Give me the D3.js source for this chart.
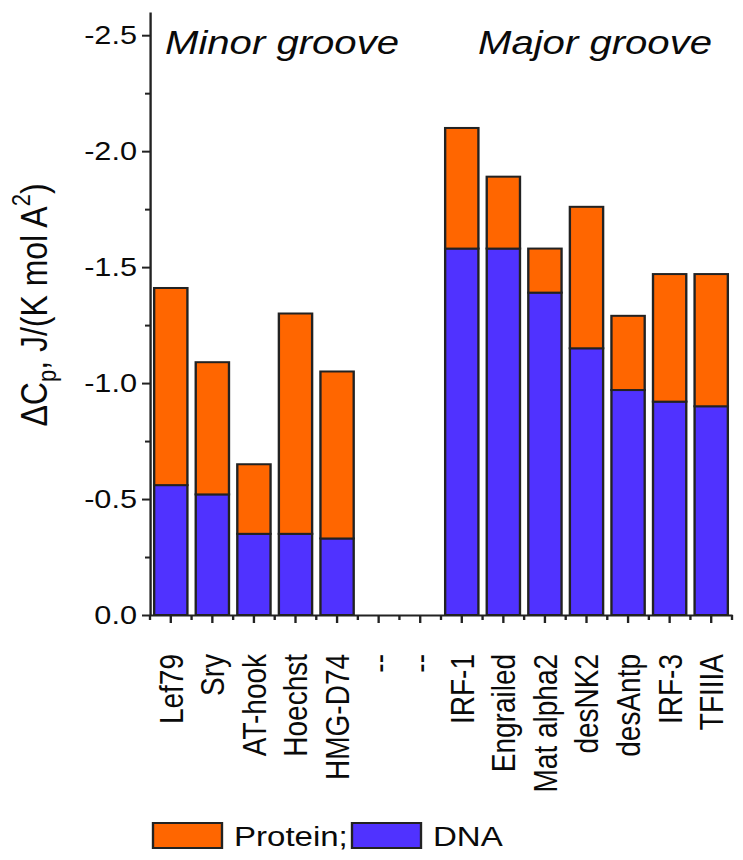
<!DOCTYPE html>
<html>
<head>
<meta charset="utf-8">
<script src="https://cdn.jsdelivr.net/npm/d3@7"></script>
<style>
  body { margin: 0; background: #fff; }
  svg { display: block; font-family: 'Liberation Sans', Arial, sans-serif; }
</style>
</head>
<body>
<svg id="chart" width="743" height="860"></svg>
<script>
// Heat capacity contributions (negative values)
const labels = ['Lef79', 'Sry', 'AT-hook', 'Hoechst', 'HMG-D74', '--', '--',
  'IRF-1', 'Engrailed', 'Mat alpha2', 'desNK2', 'desAntp', 'IRF-3', 'TFIIIA'];
const dnaValues = [-0.56, -0.52, -0.35, -0.35, -0.33, 0, 0,
  -1.58, -1.58, -1.39, -1.15, -0.97, -0.92, -0.90];
const proteinValues = [-0.85, -0.57, -0.30, -0.95, -0.72, 0, 0,
  -0.52, -0.31, -0.19, -0.61, -0.32, -0.55, -0.57];
const yTicks = [0, -0.5, -1.0, -1.5, -2.0, -2.5];
const yMinorTicks = [-0.25, -0.75, -1.25, -1.75, -2.25];
const groupTitles = ['Minor groove', 'Major groove'];
const legendNames = ['Protein;', 'DNA'];

const colors = { protein: '#ff6600', dna: '#5032ff', line: '#222', text: '#0a0a0a' };

// the original picture is stretched horizontally, so everything is drawn in a scaled group
const sx = 1.18;
const plotLeft = 150, plotRight = 732, plotTop = 12, plotBottom = 615;

const svg = d3.select('#chart');
const g = svg.append('g').attr('transform', 'scale(' + sx + ',1)');

const x = d3.scaleBand()
  .domain(d3.range(labels.length))
  .range([plotLeft / sx, plotRight / sx])
  .paddingInner(0.2)
  .paddingOuter(0.1);

const y = d3.scaleLinear()
  .domain([0, -2.6])
  .range([plotBottom, plotTop]);

// stacked bars: DNA on the bottom, protein on top
const rows = labels.map(function (d, i) {
  return { i: i, dna: dnaValues[i], protein: proteinValues[i] };
}).filter(function (d) { return d.dna !== 0 || d.protein !== 0; });

g.selectAll('rect.dna')
  .data(rows)
  .enter()
  .append('rect')
  .attr('class', 'dna')
  .attr('x', function (d) { return x(d.i); })
  .attr('width', x.bandwidth())
  .attr('y', function (d) { return y(d.dna); })
  .attr('height', function (d) { return y(0) - y(d.dna); })
  .style('fill', colors.dna)
  .style('stroke', colors.line)
  .style('stroke-width', 2);

g.selectAll('rect.protein')
  .data(rows)
  .enter()
  .append('rect')
  .attr('class', 'protein')
  .attr('x', function (d) { return x(d.i); })
  .attr('width', x.bandwidth())
  .attr('y', function (d) { return y(d.dna + d.protein); })
  .attr('height', function (d) { return y(d.dna) - y(d.dna + d.protein); })
  .style('fill', colors.protein)
  .style('stroke', colors.line)
  .style('stroke-width', 2);

// y axis with minor ticks
const yAxis = g.append('g')
  .attr('transform', 'translate(' + plotLeft / sx + ',0)')
  .call(d3.axisLeft(y)
    .tickValues(yTicks)
    .tickFormat(function (d) { return d.toFixed(1); })
    .tickSize(8 / sx)
    .tickSizeOuter(0)
    .tickPadding(5 / sx));

g.append('g')
  .attr('transform', 'translate(' + plotLeft / sx + ',0)')
  .call(d3.axisLeft(y).tickValues(yMinorTicks).tickFormat('').tickSize(5 / sx).tickSizeOuter(0))
  .select('.domain').remove();

// x axis: long ticks at the bars, short ticks between them
const xAxis = g.append('g')
  .attr('transform', 'translate(0,' + plotBottom + ')')
  .call(d3.axisBottom(x)
    .tickFormat(function (i) { return labels[i]; })
    .tickSize(8)
    .tickSizeOuter(0));

xAxis.selectAll('text')
  .attr('transform', 'rotate(-90)')
  .attr('x', -39)
  .attr('y', 0)
  .attr('dy', '0.36em')
  .attr('text-anchor', 'end')
  .style('font-size', '28px');

const boundaries = d3.range(labels.length + 1).map(function (i) {
  return x(0) - x.step() * x.paddingInner() / 2 + i * x.step();
});
xAxis.selectAll('line.minor')
  .data(boundaries)
  .enter()
  .append('line')
  .attr('class', 'minor')
  .attr('x1', function (d) { return d; })
  .attr('x2', function (d) { return d; })
  .attr('y1', 0)
  .attr('y2', 5);

g.selectAll('.domain, .tick line, line.minor')
  .style('stroke', colors.line)
  .style('stroke-width', 2);

yAxis.selectAll('text')
  .style('font-size', '26px')
  .style('fill', colors.text);
xAxis.selectAll('text').style('fill', colors.text);

// group titles
g.selectAll('text.group')
  .data(groupTitles)
  .enter()
  .append('text')
  .attr('class', 'group')
  .attr('x', function (d, i) { return (i === 0 ? 165 : 478) / sx; })
  .attr('y', 54)
  .style('font-size', '34px')
  .style('font-style', 'italic')
  .style('fill', colors.text)
  .text(function (d) { return d; });

// y axis title
const title = g.append('text')
  .attr('transform', 'translate(' + 47 / sx + ',305) rotate(-90)')
  .attr('text-anchor', 'middle')
  .style('font-size', '32px')
  .style('fill', colors.text);
title.append('tspan').text('\u0394C');
title.append('tspan').attr('dy', 8).style('font-size', '22px').text('p');
title.append('tspan').attr('dy', -8).text(', J/(K mol A');
title.append('tspan').attr('dy', -14).style('font-size', '22px').text('2');
title.append('tspan').attr('dy', 14).text(')');

// legend
const legend = g.append('g');
const legendX = [153, 352];
legend.selectAll('rect')
  .data(legendNames)
  .enter()
  .append('rect')
  .attr('x', function (d, i) { return legendX[i] / sx; })
  .attr('y', 823)
  .attr('width', 69 / sx)
  .attr('height', 25)
  .style('fill', function (d, i) { return i === 0 ? colors.protein : colors.dna; })
  .style('stroke', colors.line)
  .style('stroke-width', 2);

legend.selectAll('text')
  .data(legendNames)
  .enter()
  .append('text')
  .attr('x', function (d, i) { return (legendX[i] + 81) / sx; })
  .attr('y', 846)
  .style('font-size', '28px')
  .style('fill', colors.text)
  .text(function (d) { return d; });
</script>
</body>
</html>
